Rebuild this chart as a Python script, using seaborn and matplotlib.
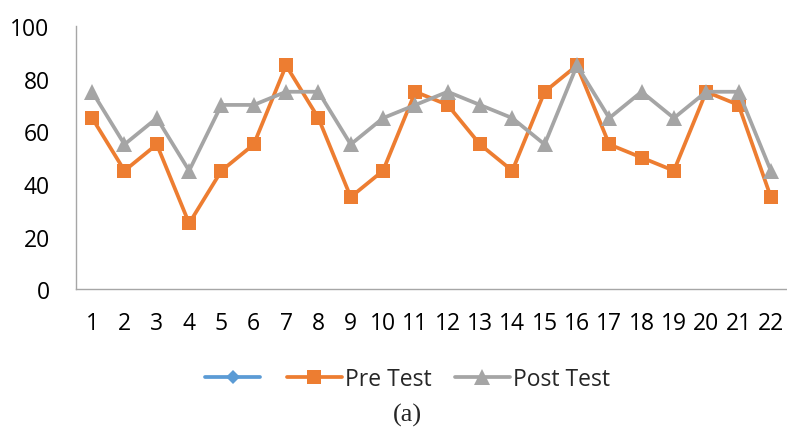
import matplotlib
matplotlib.use("Agg")
import matplotlib.pyplot as plt
from matplotlib.lines import Line2D
import pandas as pd
import seaborn as sns

students = list(range(1, 23))
pre_test = [65, 45, 55, 25, 45, 55, 85, 65, 35, 45, 75, 70, 55, 45, 75, 85, 55, 50, 45, 75, 70, 35]
post_test = [75, 55, 65, 45, 70, 70, 75, 75, 55, 65, 70, 75, 70, 65, 55, 85, 65, 75, 65, 75, 75, 45]
y_ticks = [0, 20, 40, 60, 80, 100]

df = pd.DataFrame({"student": students, "Pre Test": pre_test, "Post Test": post_test})

sns.set_style("white")
plt.rcParams["font.family"] = ["Open Sans", "DejaVu Sans"]

fig = plt.figure(figsize=(7.87, 4.35), dpi=100)
ax = fig.add_axes([0.0966, 0.333, 0.9034, 0.605])

sns.lineplot(data=df, x="student", y="Pre Test", ax=ax, color="#ED7D31", linewidth=2.7,
             marker="s", markersize=10.5, markeredgewidth=0)
sns.lineplot(data=df, x="student", y="Post Test", ax=ax, color="#A5A5A5", linewidth=2.7,
             marker="^", markersize=11.5, markeredgewidth=0)

ax.set_xlim(0.5, 22.5)
ax.set_ylim(0, 100)
ax.set_xticks(students)
ax.set_yticks(y_ticks)
ax.tick_params(axis="both", length=0, labelsize=16.5, colors="black")
ax.tick_params(axis="x", pad=16)
ax.tick_params(axis="y", pad=19)
ax.set_xlabel("")
ax.set_ylabel("")
for side in ["top", "right"]:
    ax.spines[side].set_visible(False)
for side in ["left", "bottom"]:
    ax.spines[side].set_color("#A6A6A6")
    ax.spines[side].set_linewidth(1.0)

handles = [
    Line2D([], [], color="#5B9BD5", linewidth=2.7, marker="D", markersize=7.5, markeredgewidth=0),
    Line2D([], [], color="#ED7D31", linewidth=2.7, marker="s", markersize=10.5, markeredgewidth=0),
    Line2D([], [], color="#A5A5A5", linewidth=2.7, marker="^", markersize=11.5, markeredgewidth=0),
]
fig.legend(handles, ["", "Pre Test", "Post Test"], loc="center", bbox_to_anchor=(0.518, 0.126),
           ncol=3, frameon=False, fontsize=16.5, handlelength=2.4, handletextpad=0.15,
           columnspacing=1.0)

fig.text(0.518, 0.045, "(a)", ha="center", va="center", fontsize=19,
         family=["Liberation Serif", "DejaVu Serif"])

fig.savefig("out.png", dpi=100)
